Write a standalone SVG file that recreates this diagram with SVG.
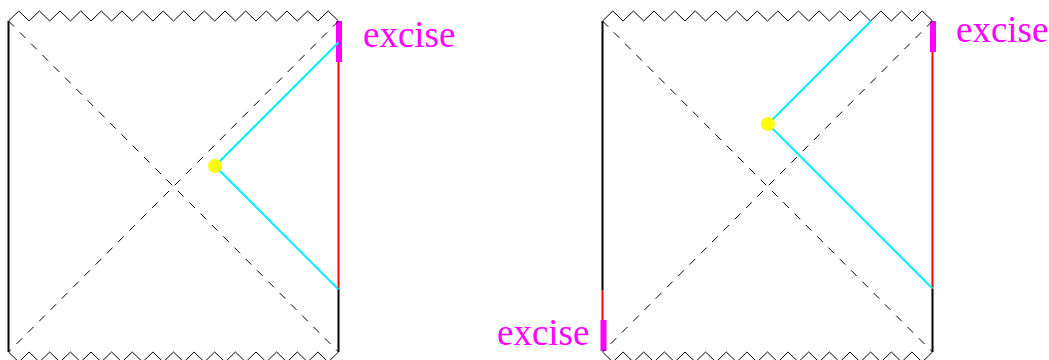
<svg xmlns="http://www.w3.org/2000/svg" width="1049" height="360" viewBox="0 0 1049 360">
<style>
.zig{fill:none;stroke:#000;stroke-width:1}
.dash{fill:none;stroke:#000;stroke-width:1;stroke-dasharray:8 8}
.edge{fill:none;stroke:#000;stroke-width:2}
.red{fill:none;stroke:#ff0000;stroke-width:2}
.cyan{fill:none;stroke:#00f0ff;stroke-width:2}
.bar{fill:none;stroke:#ff00ff;stroke-width:6}
.dot{fill:#ffff00}
.lbl{font-family:"Liberation Serif",serif;font-size:37px;fill:#ff00ff}
</style>
<defs>
<polyline id="zz" class="zig" points="0,0 10.3,-10 20.6,0 30.9,-10 41.2,0 51.5,-10 61.9,0 72.2,-10 82.5,0 92.8,-10 103.1,0 113.4,-10 123.8,0 134.1,-10 144.4,0 154.7,-10 165,0 175.3,-10 185.6,0 195.9,-10 206.2,0 216.6,-10 226.9,0 237.2,-10 247.5,0 257.8,-10 268.1,0 278.4,-10 288.8,0 299.1,-10 309.4,0 319.7,-10 330,0"/>
</defs>
<g id="diagram-left">
<use href="#zz" x="8.5" y="21"/>
<use href="#zz" transform="translate(8.5,352) scale(1,-1)"/>
<line class="edge" x1="8.5" y1="21" x2="8.5" y2="352"/>
<line class="edge" x1="338.5" y1="289" x2="338.5" y2="352"/>
<line class="red" x1="338.5" y1="62" x2="338.5" y2="289"/>
<line class="bar" x1="339" y1="21" x2="339" y2="62"/>
</g>
<g id="diagram-right">
<use href="#zz" x="602.5" y="21"/>
<use href="#zz" transform="translate(602.5,352) scale(1,-1)"/>
<line class="edge" x1="602.5" y1="21" x2="602.5" y2="290"/>
<line class="red" x1="602.5" y1="290" x2="602.5" y2="320"/>
<line class="bar" x1="603.5" y1="320" x2="603.5" y2="351"/>
<line class="edge" x1="932.5" y1="289" x2="932.5" y2="352"/>
<line class="red" x1="932.5" y1="52" x2="932.5" y2="289"/>
<line class="bar" x1="933" y1="21" x2="933" y2="52"/>
</g>
<g id="connectors">
<line class="dash" x1="8.5" y1="21" x2="338.5" y2="352"/>
<line class="dash" x1="338.5" y1="21" x2="8.5" y2="352"/>
<line class="cyan" x1="215" y1="166" x2="338.5" y2="42.5"/>
<line class="cyan" x1="215" y1="166" x2="338.5" y2="289.5"/>
<line class="dash" x1="602.5" y1="21" x2="932.5" y2="352"/>
<line class="dash" x1="932.5" y1="21" x2="602.5" y2="352"/>
<line class="cyan" x1="768" y1="124" x2="871" y2="21"/>
<line class="cyan" x1="768" y1="124" x2="932.5" y2="288.5"/>
</g>
<g id="event-left"><circle class="dot" cx="215" cy="166" r="7"/></g>
<g id="event-right"><circle class="dot" cx="768" cy="124" r="7"/></g>
<g id="labels">
<text class="lbl" x="363" y="47">excise</text>
<text class="lbl" x="956" y="42">excise</text>
<text class="lbl" x="497" y="345">excise</text>
</g>
</svg>
